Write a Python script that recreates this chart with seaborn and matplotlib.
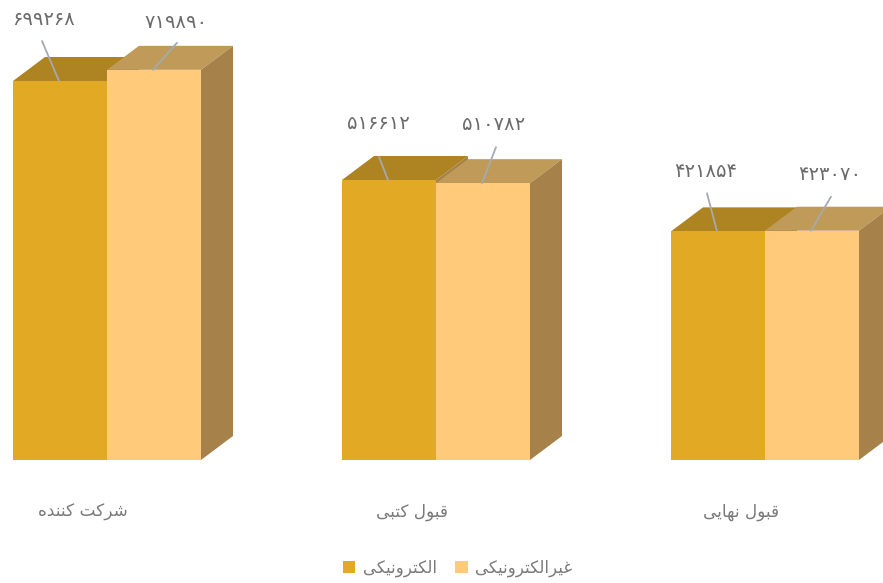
import matplotlib
matplotlib.use("Agg")
import matplotlib.pyplot as plt
import pandas as pd
import seaborn as sns
from matplotlib.patches import Polygon
from matplotlib.transforms import ScaledTranslation

# ---- data ----
categories = ["شرکت کننده", "قبول کتبی", "قبول نهایی"]
series_names = ["الکترونیکی", "غیرالکترونیکی"]
electronic = [699268, 516612, 421854]
non_electronic = [719890, 510782, 423070]

# ---- style ----
FRONT = ["#E1A924", "#FFCB7A"]
TOP = ["#AE8321", "#BF9A58"]
SIDE = "#A6824A"
TEXT = "#6B6B6B"
LABEL_TEXT = "#7A7A7A"
LEADER = "#A3ABB0"
W, H = 883, 583
BASE_Y = 460
DEPTH_X, DEPTH_Y = 32, 24
PX_PER_UNIT = 0.000542

# (label dx, label dy, leader dx, leader dy) in pixels from the top centre of each bar
LABEL_OFFSETS = [
    [(-17, 61, -17, 40), (22, 47, 24, 27)],
    [(-11, 56, -9, 23), (11, 59, 14, 36)],
    [(-12, 60, -10, 38), (18, 56, 20, 34)],
]

# ---- minimal Arabic-script shaping (matplotlib does not shape) ----
FORMS = {
    "ا": "\uFE8D\uFE8E", "د": "\uFEA9\uFEAA", "ر": "\uFEAD\uFEAE", "و": "\uFEED\uFEEE",
    "ب": "\uFE8F\uFE90\uFE91\uFE92", "ت": "\uFE95\uFE96\uFE97\uFE98",
    "ش": "\uFEB5\uFEB6\uFEB7\uFEB8", "غ": "\uFECD\uFECE\uFECF\uFED0",
    "ق": "\uFED5\uFED6\uFED7\uFED8", "ک": "\uFB8E\uFB8F\uFB90\uFB91",
    "ل": "\uFEDD\uFEDE\uFEDF\uFEE0", "ن": "\uFEE5\uFEE6\uFEE7\uFEE8",
    "ه": "\uFEE9\uFEEA\uFEEB\uFEEC", "ی": "\uFBFC\uFBFD\uFBFE\uFBFF",
}


def shape(word):
    out = []
    for i, ch in enumerate(word):
        forms = FORMS.get(ch)
        if forms is None:
            out.append(ch)
            continue
        prev = word[i - 1] if i else ""
        nxt = word[i + 1] if i + 1 < len(word) else ""
        joins_prev = prev in FORMS and len(FORMS[prev]) == 4
        joins_next = nxt in FORMS and len(forms) == 4
        idx = (2 + joins_prev) if joins_next else (1 if joins_prev else 0)
        out.append(forms[idx])
    return "".join(reversed(out))


def persian(n):
    return "".join("۰۱۲۳۴۵۶۷۸۹"[int(d)] for d in str(n))


# ---- table ----
df = pd.DataFrame({
    "category": [shape(c) for c in categories] * 2,
    "series": [shape(series_names[0])] * 3 + [shape(series_names[1])] * 3,
    "value": electronic + non_electronic,
})

sns.set_theme(style="white")
plt.rcParams["font.family"] = ["DejaVu Sans"]

fig = plt.figure(figsize=(W / 100, H / 100), dpi=100, facecolor="white")
ax = fig.add_axes([0, (H - BASE_Y) / H, 1, BASE_Y / H])
ax.patch.set_visible(False)

sns.barplot(data=df, x="category", y="value", hue="series", palette=FRONT,
            width=188 / 329, gap=0, saturation=1, linewidth=0, ax=ax, zorder=3)

ax.set_xlim(-107 / 329, (W - 107) / 329)
ax.set_ylim(0, BASE_Y / PX_PER_UNIT)
ax.set_xlabel("")
ax.set_ylabel("")
ax.set_yticks([])
sns.despine(ax=ax, left=True, bottom=True)

dx = DEPTH_X * (ax.get_xlim()[1] - ax.get_xlim()[0]) / W
dy = DEPTH_Y * ax.get_ylim()[1] / BASE_Y

# ---- pseudo-3D faces derived from the bars ----
left_bars, right_bars = ax.containers[0], ax.containers[1]
for i, (lb, rb) in enumerate(zip(left_bars, right_bars)):
    pair = sorted([(lb, 0), (rb, 1)], key=lambda t: t[0].get_height())
    for order, (bar, s) in enumerate(pair):
        x0, x1, h = bar.get_x(), bar.get_x() + bar.get_width(), bar.get_height()
        ax.add_patch(Polygon([(x0, h), (x0 + dx, h + dy), (x1 + dx, h + dy), (x1, h)],
                             closed=True, facecolor=TOP[s], edgecolor="none",
                             zorder=1 + order * 0.1))
    for bar in (lb, rb):
        x1, h = bar.get_x() + bar.get_width(), bar.get_height()
        ax.add_patch(Polygon([(x1, 0), (x1 + dx, dy), (x1 + dx, h + dy), (x1, h)],
                             closed=True, facecolor=SIDE, edgecolor="none",
                             zorder=2 if bar is rb else 0.5))

    # value labels and leader lines
    for bar, offs in zip((lb, rb), LABEL_OFFSETS[i]):
        xc, h = bar.get_x() + bar.get_width() / 2, bar.get_height()
        ax.annotate(persian(int(h)), (xc, h), xytext=offs[:2], textcoords="offset pixels",
                    ha="center", va="center", fontsize=14, color=TEXT, zorder=6,
                    annotation_clip=False)
        ax.annotate("", (xc - 1 / 329, h), xytext=offs[2:], textcoords="offset pixels",
                    arrowprops=dict(arrowstyle="-", color=LEADER, lw=1.3,
                                    shrinkA=0, shrinkB=0), zorder=5,
                    annotation_clip=False)

# ---- category labels (shifted left of the group centre) ----
ax.tick_params(axis="x", length=0, pad=31, labelsize=12.2, labelcolor=LABEL_TEXT)
shift = ScaledTranslation(-24 / 100, 0, fig.dpi_scale_trans)
for lab in ax.get_xticklabels():
    lab.set_transform(lab.get_transform() + shift)

# ---- legend ----
sns.move_legend(ax, "center", bbox_to_anchor=(457.5 / W, (BASE_Y - 568) / BASE_Y),
                ncol=2, frameon=False, title=None, fontsize=12,
                labelcolor=LABEL_TEXT, handlelength=0.75, handleheight=0.8,
                handletextpad=0.45, columnspacing=1.1, borderpad=0)

fig.savefig("out.png", dpi=100)
